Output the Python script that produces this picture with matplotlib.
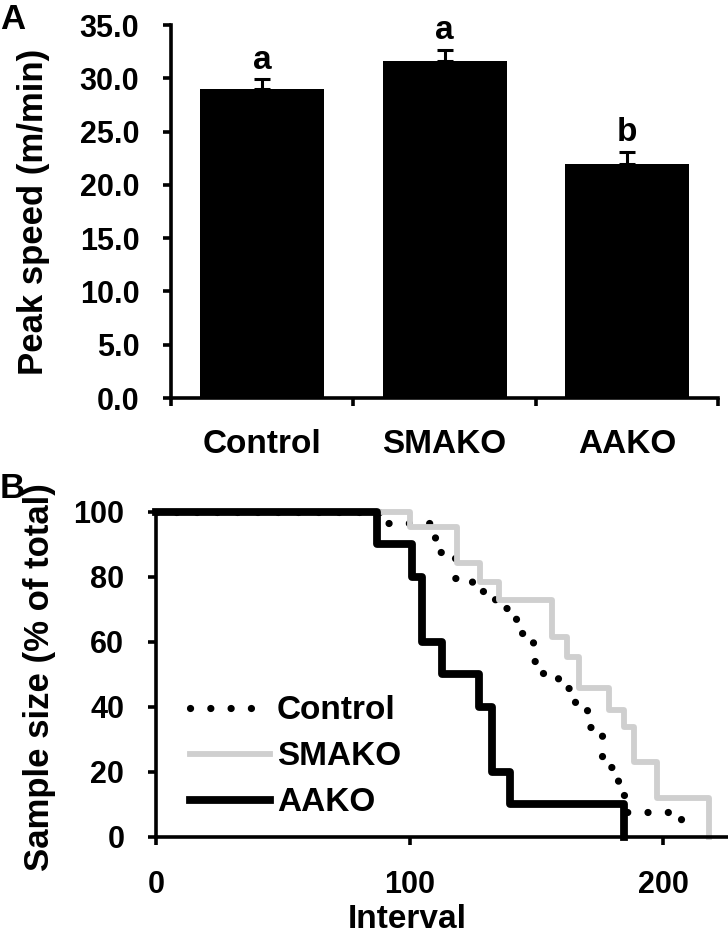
import numpy as np
import matplotlib
matplotlib.use("Agg")
import matplotlib.pyplot as plt

plt.rcParams['font.family'] = ['Liberation Sans', 'DejaVu Sans']
plt.rcParams['font.weight'] = 'bold'

# panel A data
groups = ['Control', 'SMAKO', 'AAKO']
peak_speed = [29.0, 31.6, 22.0]
peak_err = [0.9, 1.1, 1.1]
sig_letters = ['a', 'a', 'b']

# panel B data (step curves: interval at which each drop happens, level after it)
ctrl_t = [0, 88.4, 110, 118, 124.5, 133.5, 142, 148.5, 152, 158.5, 165, 170, 176, 182, 185, 207]
ctrl_y = [100, 96.5, 87.7, 79.5, 75.7, 70.3, 62.6, 54.2, 50.3, 45.7, 41.5, 33.9, 21.5, 12.8, 7.7, 0]
smako_t = [0, 100.3, 118.7, 127.9, 135.1, 156.2, 162.1, 166.7, 178.6, 184.5, 188.4, 197.6, 214.7, 218]
smako_y = [100, 95.4, 84.1, 78.5, 72.8, 61.5, 55.4, 45.7, 39.0, 33.9, 23.1, 11.8, 11.8, 0]
aako_t = [0, 87.2, 100.9, 104.9, 112.8, 127.2, 132.5, 139.7, 184.5]
aako_y = [100, 90, 80, 60, 50, 40, 20, 10, 0]

fig = plt.figure(figsize=(7.28, 9.35), dpi=100)

lw_ax = 2.6
fs = 24
tlen = 5.8

# ---- panel A ----
axA = fig.add_axes([0.2349, 0.5743, 0.7514, 0.3989])
x = np.arange(len(groups))
axA.bar(x, peak_speed, width=0.68, color='black', zorder=2)
axA.errorbar(x, peak_speed, yerr=[np.zeros(3), peak_err], fmt='none', ecolor='black',
             elinewidth=2.2, capsize=6, capthick=2.2, zorder=1)
for i, l in enumerate(sig_letters):
    axA.text(x[i], peak_speed[i] + peak_err[i] + 1.8, l, ha='center', va='center',
             fontsize=fs, fontweight='bold')
axA.set_xlim(-0.5, 2.5)
axA.set_ylim(0, 35)
axA.set_yticks(np.arange(0, 36, 5))
axA.set_yticklabels(['%.1f' % v for v in np.arange(0, 36, 5)])
axA.set_xticks(x)
axA.set_xticklabels(groups)
axA.set_xticks([-0.5, 0.5, 1.5, 2.5], minor=True)
axA.tick_params(axis='x', which='major', length=0, pad=22, labelsize=fs)
axA.tick_params(axis='x', which='minor', length=tlen, width=lw_ax, direction='out')
axA.tick_params(axis='y', length=tlen, width=lw_ax, pad=17, labelsize=22)
axA.set_ylabel('Peak speed (m/min)', fontsize=25, fontweight='bold')
axA.yaxis.set_label_coords(-0.221, 0.5)
for s in ['top', 'right']:
    axA.spines[s].set_visible(False)
for s in ['left', 'bottom']:
    axA.spines[s].set_linewidth(lw_ax)

# ---- panel B ----
axB = fig.add_axes([0.2143, 0.1051, 0.784, 0.3476])
axB.step(ctrl_t, ctrl_y, where='post', color='black', lw=5.2,
         linestyle=(0, (0.01, 2.8)), dash_capstyle='round', label='Control', clip_on=False)
axB.step(smako_t, smako_y, where='post', color='#cfcfcf', lw=4.2, label='SMAKO', clip_on=False)
axB.step(aako_t, aako_y, where='post', color='black', lw=5.6, label='AAKO', clip_on=False)
axB.set_xlim(0, 225)
axB.set_ylim(0, 100)
axB.set_xticks([0, 100, 200])
axB.set_yticks(np.arange(0, 101, 20))
axB.tick_params(axis='x', length=tlen, width=lw_ax, pad=18, labelsize=22)
axB.tick_params(axis='y', length=tlen, width=lw_ax, pad=17, labelsize=22)
axB.set_xlabel('Interval', fontsize=fs, fontweight='bold')
axB.xaxis.set_label_coords(0.44, -0.208)
axB.set_ylabel('Sample size (% of total)', fontsize=25, fontweight='bold')
axB.yaxis.set_label_coords(-0.175, 0.49)
for s in ['top', 'right']:
    axB.spines[s].set_visible(False)
for s in ['left', 'bottom']:
    axB.spines[s].set_linewidth(lw_ax)
axB.legend(loc='upper left', bbox_to_anchor=(0.06, 0.435), frameon=False, fontsize=fs,
           handlelength=2.4, handletextpad=0.2, labelspacing=0.45, borderpad=0,
           borderaxespad=0)

fig.text(0.0, 1 - 3 / 935, 'A', ha='left', va='top', fontsize=25, fontweight='bold')
fig.text(0.0, 1 - 472 / 935, 'B', ha='left', va='top', fontsize=25, fontweight='bold')

fig.savefig('out.png', dpi=100)
